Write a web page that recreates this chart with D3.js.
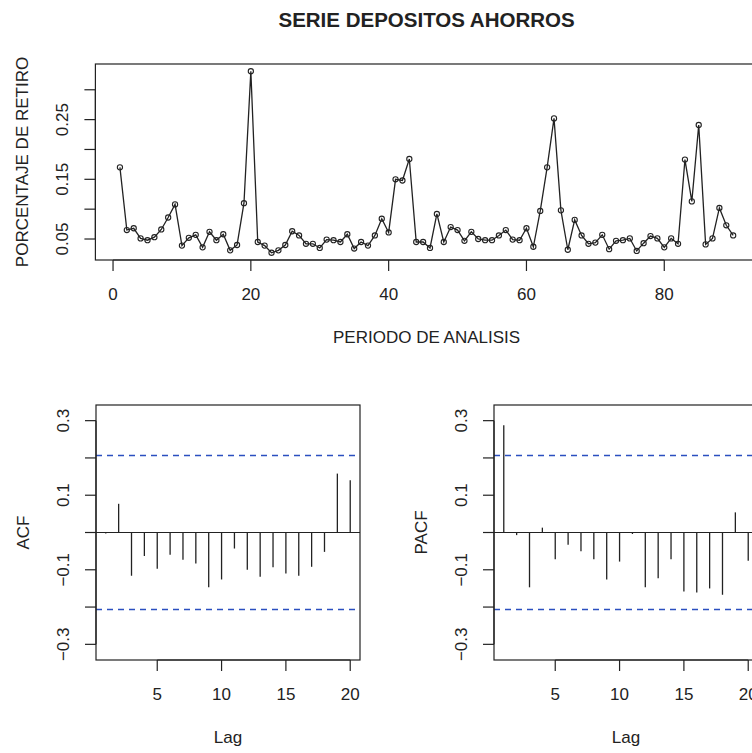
<!DOCTYPE html>
<html>
<head>
  <meta charset="utf-8">
  <script src="https://cdn.jsdelivr.net/npm/d3@7"></script>
  <style>
    body { margin: 0; background: #fff; }
    svg { display: block; font-family: "Liberation Sans", Arial, sans-serif; }
    .box { fill: none; stroke: #222; stroke-width: 1.2; }
    .tick-line { stroke: #222; stroke-width: 1.2; }
    .lbl { font-size: 17px; fill: #222; }
  </style>
</head>
<body>
<svg width="752" height="753"></svg>
<script>
// series: porcentaje de retiro, periodos 1..90
var serie = [
  0.170, 0.065, 0.068, 0.051, 0.048, 0.053, 0.066, 0.086, 0.108, 0.039,
  0.052, 0.057, 0.036, 0.062, 0.048, 0.058, 0.031, 0.040, 0.110, 0.331,
  0.045, 0.039, 0.027, 0.031, 0.040, 0.063, 0.056, 0.042, 0.042, 0.035,
  0.049, 0.048, 0.045, 0.058, 0.034, 0.045, 0.039, 0.056, 0.084, 0.061,
  0.150, 0.148, 0.184, 0.045, 0.045, 0.035, 0.092, 0.045, 0.070, 0.065,
  0.047, 0.062, 0.050, 0.048, 0.048, 0.056, 0.065, 0.049, 0.048, 0.068,
  0.037, 0.097, 0.170, 0.252, 0.098, 0.032, 0.082, 0.056, 0.042, 0.044,
  0.057, 0.033, 0.047, 0.048, 0.051, 0.030, 0.043, 0.055, 0.051, 0.036,
  0.051, 0.042, 0.183, 0.113, 0.241, 0.041, 0.051, 0.102, 0.073, 0.056
];

var lags = d3.range(1, 21);
var acfVals = [-0.003, 0.077, -0.116, -0.063, -0.097, -0.060, -0.073, -0.083, -0.147, -0.126,
               -0.043, -0.100, -0.119, -0.093, -0.110, -0.116, -0.092, -0.052, 0.158, 0.140];
var pacfVals = [0.288, -0.007, -0.147, 0.013, -0.072, -0.033, -0.050, -0.072, -0.126, -0.078,
                -0.004, -0.147, -0.123, -0.072, -0.158, -0.161, -0.150, -0.167, 0.054, -0.076];

var serieXTicks = [0, 20, 40, 60, 80];
var serieYTicks = [0.05, 0.10, 0.15, 0.20, 0.25, 0.30];
var serieYLabels = ["0.05", "", "0.15", "", "0.25", ""];
var lagTicks = [5, 10, 15, 20];
var corTicks = [-0.3, -0.2, -0.1, 0, 0.1, 0.2, 0.3];
var corLabels = ["\u22120.3", "", "\u22120.1", "", "0.1", "", "0.3"];

var svg = d3.select("svg");

// R style range padding (4% each side)
function rpad(lo, hi) {
  var d = (hi - lo) * 0.04;
  return [lo - d, hi + d];
}

function drawAxes(g, x, y, xt, yt, ylabs, box) {
  // bottom axis
  g.append("line").attr("class", "tick-line")
    .attr("x1", x(xt[0])).attr("x2", x(xt[xt.length - 1]))
    .attr("y1", box.bottom).attr("y2", box.bottom);
  xt.forEach(function(t) {
    g.append("line").attr("class", "tick-line")
      .attr("x1", x(t)).attr("x2", x(t))
      .attr("y1", box.bottom).attr("y2", box.bottom + 11);
    g.append("text").attr("class", "lbl")
      .attr("x", x(t)).attr("y", box.bottom + 40)
      .attr("text-anchor", "middle").text(t);
  });
  // left axis
  g.append("line").attr("class", "tick-line")
    .attr("x1", box.left).attr("x2", box.left)
    .attr("y1", y(yt[0])).attr("y2", y(yt[yt.length - 1]));
  yt.forEach(function(t, i) {
    g.append("line").attr("class", "tick-line")
      .attr("x1", box.left - 11).attr("x2", box.left)
      .attr("y1", y(t)).attr("y2", y(t));
    if (ylabs[i]) {
      g.append("text").attr("class", "lbl")
        .attr("transform", "translate(" + (box.left - 27) + "," + y(t) + ") rotate(-90)")
        .attr("text-anchor", "middle").text(ylabs[i]);
    }
  });
  g.append("rect").attr("class", "box")
    .attr("x", box.left).attr("y", box.top)
    .attr("width", box.right - box.left).attr("height", box.bottom - box.top);
}

function axisTitles(g, box, xlab, ylab) {
  g.append("text").attr("class", "lbl")
    .attr("x", (box.left + box.right) / 2).attr("y", box.bottom + 83)
    .attr("text-anchor", "middle").text(xlab);
  g.append("text").attr("class", "lbl")
    .attr("transform", "translate(" + (box.left - 67) + "," + ((box.top + box.bottom) / 2) + ") rotate(-90)")
    .attr("text-anchor", "middle").text(ylab);
}

// ---- top: the series ----
var topBox = {left: 95.4, right: 757.7, top: 64, bottom: 260};
var xS = d3.scaleLinear().domain(rpad(1, serie.length)).range([topBox.left, topBox.right]);
var yS = d3.scaleLinear().domain(rpad(d3.min(serie), d3.max(serie))).range([topBox.bottom, topBox.top]);

var gTop = svg.append("g");
gTop.append("path")
  .datum(serie)
  .attr("fill", "none").attr("stroke", "#222").attr("stroke-width", 1.3)
  .attr("d", d3.line().x(function(d, i) { return xS(i + 1); }).y(function(d) { return yS(d); }));
gTop.selectAll("circle")
  .data(serie)
  .enter().append("circle")
  .attr("cx", function(d, i) { return xS(i + 1); })
  .attr("cy", function(d) { return yS(d); })
  .attr("r", 2.6)
  .attr("fill", "none").attr("stroke", "#222").attr("stroke-width", 1.1);
drawAxes(gTop, xS, yS, serieXTicks, serieYTicks, serieYLabels, topBox);
axisTitles(gTop, topBox, "PERIODO DE ANALISIS", "PORCENTAJE DE RETIRO");
gTop.append("text")
  .attr("x", (topBox.left + topBox.right) / 2).attr("y", 27)
  .attr("text-anchor", "middle")
  .style("font-size", "20.5px").style("font-weight", "bold").style("fill", "#222")
  .text("SERIE DEPOSITOS AHORROS");

// ---- bottom: ACF and PACF ----
var ci = 1.96 / Math.sqrt(serie.length);

function corPanel(box, vals, ylab) {
  var g = svg.append("g");
  var x = d3.scaleLinear().domain(rpad(1, 20)).range([box.left, box.right]);
  var y = d3.scaleLinear().domain([-0.342, 0.342]).range([box.bottom, box.top]);

  g.selectAll("line.spike")
    .data(vals)
    .enter().append("line")
    .attr("class", "spike")
    .attr("x1", function(d, i) { return x(lags[i]); })
    .attr("x2", function(d, i) { return x(lags[i]); })
    .attr("y1", y(0))
    .attr("y2", function(d) { return y(d); })
    .attr("stroke", "#222").attr("stroke-width", 1.3);

  g.append("line")
    .attr("x1", box.left).attr("x2", box.right)
    .attr("y1", y(0)).attr("y2", y(0))
    .attr("stroke", "#222").attr("stroke-width", 1.2);

  [ci, -ci].forEach(function(c) {
    g.append("line")
      .attr("x1", box.left).attr("x2", box.right)
      .attr("y1", y(c)).attr("y2", y(c))
      .attr("stroke", "#2b4fc0").attr("stroke-width", 1.3)
      .attr("stroke-dasharray", "6,5");
  });

  drawAxes(g, x, y, lagTicks, corTicks, corLabels, box);
  axisTitles(g, box, "Lag", ylab);
}

corPanel({left: 96, right: 360, top: 405, bottom: 660}, acfVals, "ACF");
corPanel({left: 494, right: 758, top: 405, bottom: 660}, pacfVals, "PACF");
</script>
</body>
</html>
